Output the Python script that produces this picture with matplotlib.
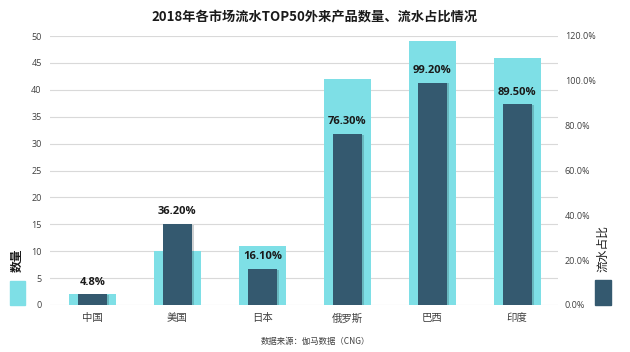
import matplotlib
matplotlib.use("Agg")
import matplotlib.pyplot as plt
import matplotlib.patheffects as pe
from matplotlib.patches import Rectangle

plt.rcParams['font.family'] = ['Open Sans', 'Noto Sans CJK SC', 'DejaVu Sans']
cjk = ['Noto Sans CJK SC', 'DejaVu Sans']

categories = ['中国', '美国', '日本', '俄罗斯', '巴西', '印度']
counts = [2, 10, 11, 42, 49, 46]
shares = [4.8, 36.2, 16.1, 76.3, 99.2, 89.5]
share_labels = ['4.8%', '36.20%', '16.10%', '76.30%', '99.20%', '89.50%']
left_ticks = [0, 5, 10, 15, 20, 25, 30, 35, 40, 45, 50]
right_ticks = [0, 20, 40, 60, 80, 100, 120]

cyan = '#7EDFE6'
dark = '#34596F'

fig = plt.figure(figsize=(6.3, 3.52), dpi=100)
ax = fig.add_axes([50/630, 1-305/352, 508/630, 269/352])
ax2 = ax.twinx()

x = list(range(len(categories)))
ax.bar(x, counts, width=0.55, color=cyan, zorder=2)
ax.set_ylim(0, 50)
ax.set_xlim(-0.5, 5.48)
ax.set_yticks(left_ticks)
ax.grid(axis='y', color='#D9D9D9', linewidth=0.8, zorder=0)
ax.set_axisbelow(True)

bars = ax2.bar(x, shares, width=0.34, color=dark, zorder=3)
for b in bars:
    b.set_path_effects([pe.SimplePatchShadow(offset=(1.5, -0.5), alpha=0.2), pe.Normal()])
ax2.set_ylim(0, 120)
ax2.set_yticks(right_ticks)
ax2.set_yticklabels([f'{v:.1f}%' for v in right_ticks])
for xi, v, lab in zip(x, shares, share_labels):
    ax2.text(xi, v + 3, lab, ha='center', va='bottom', fontsize=8,
             fontweight='bold', color='#1A1A1A', zorder=5)

for a in (ax, ax2):
    for s in a.spines.values():
        s.set_visible(False)
    a.tick_params(axis='both', length=0, labelsize=6.5, labelcolor='#404040')

ax.set_xticks(x)
ax.set_xticklabels(categories, fontsize=7.5, color='#404040', family=cjk)
ax.tick_params(axis='x', pad=6)
ax.tick_params(axis='y', pad=6)
ax2.tick_params(axis='y', pad=5)

fig.text(0.5, 1-17/352, '2018年各市场流水TOP50外来产品数量、流水占比情况',
         ha='center', va='center', fontsize=9.5, fontweight='bold', color='#1A1A1A',
         family=cjk)
fig.text(0.5, 1-341/352, '数据来源：伽马数据（CNG）', ha='center', va='center',
         fontsize=6, color='#404040', family=cjk)

# legend swatches
fig.patches.append(Rectangle((10/630, 1-305/352), 15/630, 24/352,
                             transform=fig.transFigure, color=cyan))
fig.text(17.5/630, 1-260/352, '数量', rotation=90, ha='center', va='center',
         fontsize=8.5, fontweight='bold', color='#1A1A1A', family=cjk)
fig.patches.append(Rectangle((595/630, 1-305/352), 16/630, 25/352,
                             transform=fig.transFigure, color=dark))
fig.text(603/630, 1-248/352, '流水占比', rotation=90, ha='center', va='center',
         fontsize=8.5, color='#1A1A1A', family=cjk)

fig.savefig('out.png', dpi=100)
